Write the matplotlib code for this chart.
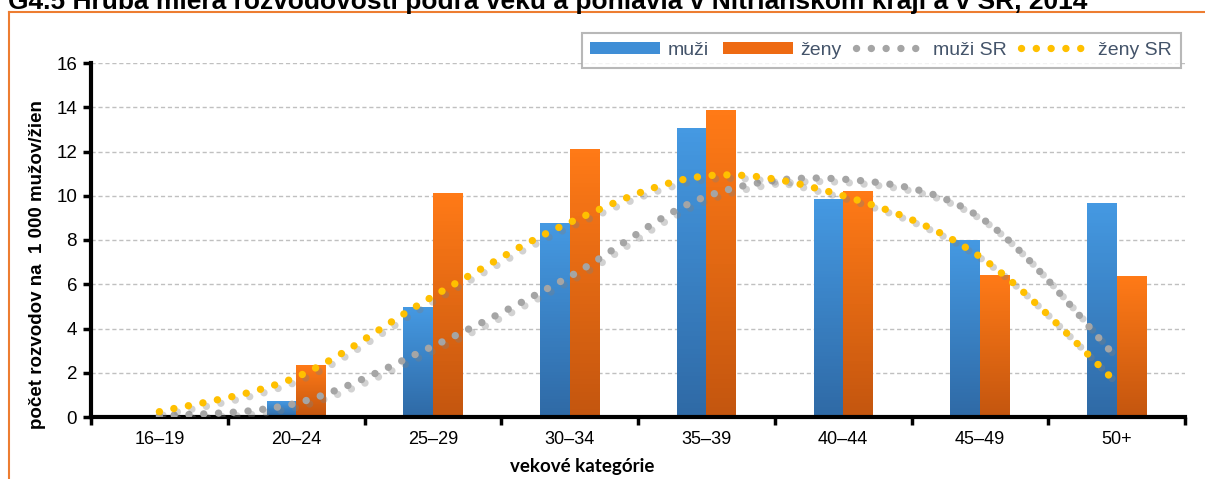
import numpy as np
import matplotlib.pyplot as plt
from matplotlib.path import Path
from matplotlib.patches import PathPatch, Patch
from matplotlib.lines import Line2D
from matplotlib.colors import LinearSegmentedColormap
import matplotlib.patheffects as pe

categories = ["16–19", "20–24", "25–29", "30–34", "35–39", "40–44", "45–49", "50+"]
muzi = [0.0, 0.72, 4.97, 8.73, 13.03, 9.82, 7.98, 9.67]
zeny = [0.0, 2.35, 10.1, 12.08, 13.85, 10.21, 6.41, 6.33]
muzi_sr = [0.05, 0.62, 3.2, 6.35, 9.97, 10.75, 9.03, 2.68]
zeny_sr = [0.24, 1.8, 5.45, 8.79, 10.9, 10.0, 7.25, 1.55]

title = "G4.5 Hrubá miera rozvodovosti podľa veku a pohlavia v Nitrianskom kraji a v SR, 2014"

font = "Liberation Sans"
W, H = 1205, 479
fig = plt.figure(figsize=(W / 100, H / 100), dpi=100)
ax = fig.add_axes([91 / W, 1 - 417 / H, (1185 - 91) / W, (417 - 63) / H])

# orange frame round the chart, title sits half above the picture
fig.add_artist(Line2D([9 / W, 1], [1 - 12 / H] * 2, color="#ED7D31", lw=1.5))
fig.add_artist(Line2D([9 / W] * 2, [0, 1 - 12 / H], color="#ED7D31", lw=1.5))
fig.text(8 / W, 1 - 9 / H, title, fontsize=19, fontweight="bold",
         family=font, va="baseline", ha="left")

blue_cm = LinearSegmentedColormap.from_list("b", ["#2F6AA6", "#4599E2"])
orange_cm = LinearSegmentedColormap.from_list("o", ["#C4560F", "#FF7A17"])
grad = np.linspace(0, 1, 64).reshape(-1, 1)

bw = 0.215
x = np.arange(len(categories)) + 0.5
for xi, m, z in zip(x, muzi, zeny):
    if m > 0:
        ax.imshow(grad, cmap=blue_cm, origin="lower", aspect="auto",
                  extent=[xi - bw, xi, 0, m], zorder=2)
    if z > 0:
        ax.imshow(grad, cmap=orange_cm, origin="lower", aspect="auto",
                  extent=[xi, xi + bw, 0, z], zorder=2)


# smooth curve through the points, drawn by the library as cubic beziers
def smooth_path(xs, ys):
    pts = np.column_stack([xs, ys])
    n = len(pts)
    verts = [pts[0]]
    codes = [Path.MOVETO]
    for i in range(n - 1):
        p0 = pts[max(i - 1, 0)]
        p1 = pts[i]
        p2 = pts[i + 1]
        p3 = pts[min(i + 2, n - 1)]
        verts += [p1 + (p2 - p0) / 6, p2 - (p3 - p1) / 6, p2]
        codes += [Path.CURVE4] * 3
    return Path(verts, codes)


dots = (0, (0.01, 2.0))
shadow = [pe.SimpleLineShadow(offset=(2.5, -2.5), shadow_color="#808080", alpha=0.35), pe.Normal()]
for ys, col in [(muzi_sr, "#A5A5A5"), (zeny_sr, "#FFC000")]:
    pp = PathPatch(smooth_path(x, ys), fill=False, edgecolor=col, lw=5.3,
                   linestyle=dots, capstyle="round", zorder=4)
    pp.set_path_effects(shadow)
    ax.add_patch(pp)

ax.set_xlim(0, 8)
ax.set_ylim(0, 16)
ax.set_yticks(np.arange(0, 17, 2))
ax.set_xticks(np.arange(0, 9))
ax.set_xticklabels([])
ax.set_xticks(x, minor=True)
ax.set_xticklabels(categories, minor=True, family=font, fontsize=13)
ax.tick_params(axis="x", which="minor", length=0, pad=10)
ax.tick_params(axis="x", which="major", length=6, width=2.5, direction="out")
ax.tick_params(axis="y", length=6, width=2.5, labelsize=13.5, pad=4)
for lab in ax.get_yticklabels():
    lab.set_family(font)
ax.grid(axis="y", color="#C0C0C0", lw=1, linestyle=(0, (3, 2)), zorder=0)
ax.set_axisbelow(True)
for s in ["top", "right"]:
    ax.spines[s].set_visible(False)
ax.spines["left"].set_linewidth(3)
ax.spines["bottom"].set_linewidth(3)

ax.set_ylabel("počet rozvodov na  1 000 mužov/žien", fontsize=13.5, fontweight="bold",
              family=font)
ax.yaxis.set_label_coords(-0.041, 0.432)
ax.set_xlabel("vekové kategórie", fontsize=13.5, fontweight="bold", family="Lato")
ax.xaxis.set_label_coords(0.449, -0.115)

handles = [
    Patch(facecolor="#3F8ED6", edgecolor="none"),
    Patch(facecolor="#EE6A12", edgecolor="none"),
    Line2D([], [], color="#A5A5A5", lw=5.3, linestyle=dots, dash_capstyle="round"),
    Line2D([], [], color="#FFC000", lw=5.3, linestyle=dots, dash_capstyle="round"),
]
leg = fig.legend(handles, ["muži", "ženy", "muži SR", "ženy SR"], ncol=4,
                 loc="upper right", bbox_to_anchor=(1181 / W, 1 - 33 / H),
                 prop={"family": font, "size": 14}, labelcolor="#44546A",
                 handlelength=3.6, handleheight=0.6, handletextpad=0.4, columnspacing=0.7,
                 frameon=True, fancybox=False, borderpad=0.45, borderaxespad=0)
leg.get_frame().set_edgecolor("#A6A6A6")
leg.get_frame().set_linewidth(1.5)

fig.savefig("out.png", dpi=100)
